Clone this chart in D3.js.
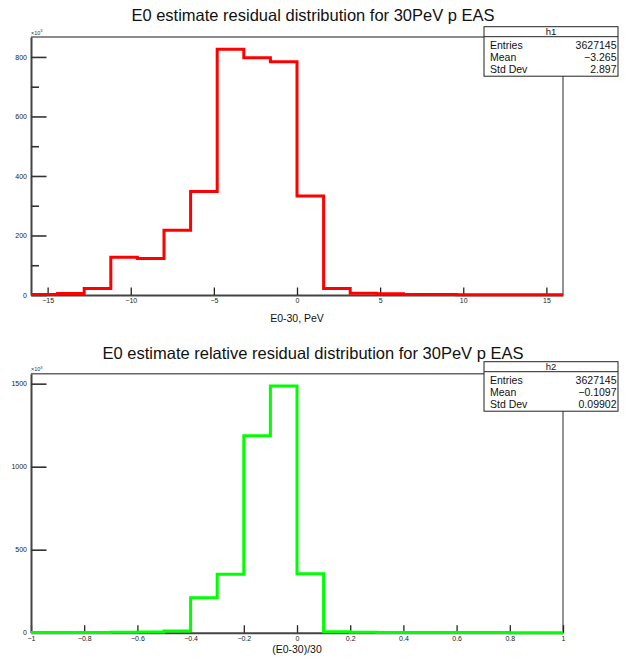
<!DOCTYPE html>
<html><head><meta charset="utf-8">
<script src="https://cdn.jsdelivr.net/npm/d3@7/dist/d3.min.js"></script>
<style>
body{margin:0;background:#fff}
text{font-family:"Liberation Sans",Arial,Helvetica,sans-serif}
</style>
</head><body>
<svg id="chart" width="627" height="662"></svg>
<script>
// ---------- data (counts in units of 10^3) ----------
const h1Title = "E0 estimate residual distribution for 30PeV p EAS";
const h1XLabel = "E0-30, PeV";
const h1Edges = [-16,-14.4,-12.8,-11.2,-9.6,-8,-6.4,-4.8,-3.2,-1.6,0,1.6,3.2,4.8,6.4,8,9.6,11.2,12.8,14.4,16];
const h1Counts = [2,5,22,127,123,218,348,826,797,784,333,22,6,4,2,1.5,1,1,0.7,0.5];
const h1XTicks = [-15,-10,-5,0,5,10,15];
const h1YTicks = [0,200,400,600,800];
const h1YMinor = [100,300,500,700];
const h1YMax = 867;
const h1StatNames = ["Entries","Mean","Std Dev"];
const h1StatValues = ["3627145","\u22123.265","2.897"];

const h2Title = "E0 estimate relative residual distribution for 30PeV p EAS";
const h2XLabel = "(E0-30)/30";
const h2Edges = [-1,-0.9,-0.8,-0.7,-0.6,-0.5,-0.4,-0.3,-0.2,-0.1,0,0.1,0.2,0.3,0.4,0.5,0.6,0.7,0.8,0.9,1];
const h2Counts = [0.5,0.7,1,2,4,10,211,352,1187,1486,355,6,3,1.5,1,0.8,0.6,0.5,0.4,0.3];
const h2XTicks = [-1,-0.8,-0.6,-0.4,-0.2,0,0.2,0.4,0.6,0.8,1];
const h2YTicks = [0,500,1000,1500];
const h2YMinor = [];
const h2YMax = 1560;
const h2StatNames = ["Entries","Mean","Std Dev"];
const h2StatValues = ["3627145","\u22120.1097","0.09902"];

// ---------- drawing ----------
const svg = d3.select("#chart");
const fmt = d => (d < 0 ? "\u2212" + Math.abs(d) : String(d));

function drawPanel(o) {
  const g = svg.append("g");
  const x = d3.scaleLinear().domain([o.edges[0], o.edges[o.edges.length-1]]).range([31, 563]);
  const y = d3.scaleLinear().domain([0, o.yMax]).range([o.bottom, o.top]);

  // title
  g.append("text").attr("x", 313).attr("y", o.titleY).attr("text-anchor","middle")
    .attr("font-size", 16.5).attr("fill","#111").text(o.title);

  // frame top & right
  g.append("path").attr("d", `M31,${o.top}H563V${o.bottom}`)
    .attr("fill","none").attr("stroke","#666").attr("stroke-width",1.4);

  // x axis
  const xa = g.append("g").attr("transform",`translate(0,${o.bottom})`)
    .call(d3.axisBottom(x).tickValues(o.xTicks).tickSizeInner(-7.5).tickSizeOuter(0)
      .tickPadding(3.5).tickFormat(fmt));
  xa.select(".domain").attr("stroke","#444").attr("stroke-width",2);
  xa.selectAll(".tick line").attr("stroke","#222").attr("stroke-width",1.3);
  xa.selectAll(".tick text").attr("font-size",7).attr("fill","#222").attr("font-family","Liberation Sans, Arial, sans-serif");

  // y axis
  const ya = g.append("g").attr("transform",`translate(31,0)`)
    .call(d3.axisLeft(y).tickValues(o.yTicks).tickSizeInner(-15.5).tickSizeOuter(0)
      .tickPadding(4).tickFormat(fmt));
  ya.select(".domain").attr("stroke","#444").attr("stroke-width",2);
  ya.selectAll(".tick line").attr("stroke","#333").attr("stroke-width",1.6);
  ya.selectAll(".tick text").attr("font-size",7).attr("fill","#222").attr("font-family","Liberation Sans, Arial, sans-serif");
  if (o.yMinor.length) {
    const ym = g.append("g").attr("transform",`translate(31,0)`)
      .call(d3.axisLeft(y).tickValues(o.yMinor).tickSizeInner(-8).tickSizeOuter(0).tickFormat(""));
    ym.select(".domain").remove();
    ym.selectAll(".tick line").attr("stroke","#333").attr("stroke-width",1.6);
  }

  // x10^3 label
  const m = g.append("text").attr("x", 31).attr("y", o.top - 2.5).attr("font-size",5.5).attr("fill","#333");
  m.append("tspan").text("\u00d710");
  m.append("tspan").attr("dy",-2.5).attr("font-size",4).text("3");

  // histogram step line
  const pts = [];
  o.counts.forEach((c,i) => { pts.push([o.edges[i], c]); pts.push([o.edges[i+1], c]); });
  g.append("path").datum(pts)
    .attr("d", d3.line().x(d => x(d[0])).y(d => y(d[1])))
    .attr("fill","none").attr("stroke", o.color).attr("stroke-width",3);

  // x axis title
  g.append("text").attr("x", 297).attr("y", o.xLabelY).attr("text-anchor","middle")
    .attr("font-size",10.5).attr("fill","#111").text(o.xLabel);

  // stats box
  const bx = 484, bw = 134, bt = o.boxTop, hh = 10, rh = 12;
  const sb = g.append("g");
  sb.append("rect").attr("x",bx).attr("y",bt).attr("width",bw).attr("height",hh+rh*3+3.5)
    .attr("fill","#fff").attr("stroke","#222").attr("stroke-width",1);
  sb.append("line").attr("x1",bx).attr("x2",bx+bw).attr("y1",bt+hh).attr("y2",bt+hh)
    .attr("stroke","#222").attr("stroke-width",1);
  sb.append("text").attr("x",bx+bw/2).attr("y",bt+hh-1.8).attr("text-anchor","middle")
    .attr("font-size",9.5).attr("fill","#111").text(o.name);
  o.statNames.forEach((n,i) => {
    const yy = bt + 22 + rh*i;
    sb.append("text").attr("x",bx+6).attr("y",yy).attr("font-size",10.5).attr("fill","#111").text(n);
    sb.append("text").attr("x",bx+bw-1.5).attr("y",yy).attr("text-anchor","end")
      .attr("font-size",10.5).attr("fill","#111").text(o.statValues[i]);
  });
}

drawPanel({title:h1Title, titleY:20.7, xLabel:h1XLabel, xLabelY:321.5, edges:h1Edges, counts:h1Counts,
  xTicks:h1XTicks, yTicks:h1YTicks, yMinor:h1YMinor, yMax:h1YMax, top:37, bottom:295,
  color:"#ff0000", name:"h1", statNames:h1StatNames, statValues:h1StatValues, boxTop:26.7});
drawPanel({title:h2Title, titleY:359.3, xLabel:h2XLabel, xLabelY:652.5, edges:h2Edges, counts:h2Counts,
  xTicks:h2XTicks, yTicks:h2YTicks, yMinor:h2YMinor, yMax:h2YMax, top:373.7, bottom:632.7,
  color:"#00ff00", name:"h2", statNames:h2StatNames, statValues:h2StatValues, boxTop:361.7});
</script>
</body></html>
